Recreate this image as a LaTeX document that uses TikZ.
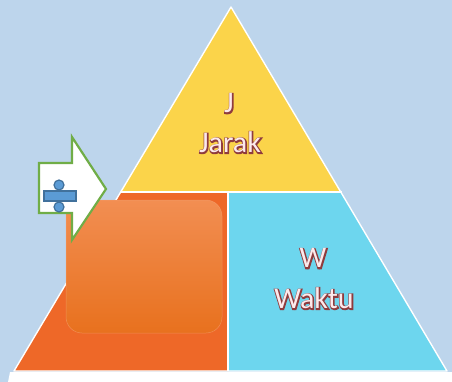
\documentclass[tikz,border=0pt]{standalone}
\usepackage{fontspec}
\setmainfont{Carlito}
\usetikzlibrary{shadings}
\definecolor{bgblue}{HTML}{BDD5EC}
\definecolor{pyryellow}{HTML}{FBD44A}
\definecolor{pyrorange}{HTML}{EE6828}
\definecolor{pyrcyan}{HTML}{6DD6EE}
\definecolor{recttop}{HTML}{F28E52}
\definecolor{rectbot}{HTML}{E8711E}
\definecolor{arrowgreen}{HTML}{70AD47}
\definecolor{symfill}{HTML}{5B9BD5}
\definecolor{symline}{HTML}{41719C}
\definecolor{txtfill}{HTML}{FCEAEC}
\definecolor{txtedge}{HTML}{8E3B3E}
\newcommand{\thickglyphs}[1]{%
  \special{pdf:literal 2 Tr 2.2 w 0.56 0.23 0.24 RG}#1\special{pdf:literal 0 Tr 1 w}}
\newcommand{\fxtext}[3]{%
  \node[lbl,text=txtedge] at ([shift={(0.5,0.6)}]#2) {\thickglyphs{#3}};
  \node[lbl,text=txtfill] (#1) at (#2) {#3};
}
\tikzset{
  lbl/.style={font=\fontsize{30}{32}\selectfont, inner sep=0pt, anchor=center},
  sep/.style={draw=white, line width=2.6pt},
}
\begin{document}
\begin{tikzpicture}[x=1pt,y=-1pt]
\fill[bgblue] (0,0) rectangle (452,382);
\useasboundingbox (0,0) rectangle (452,382);
% white base band
\fill[white] (10,372) -- (452,372) -- (452,382) -- (8,382) -- cycle;
% pyramid parts
\fill[pyryellow] (231,7) -- (341,192) -- (121,192) -- cycle;
\fill[pyrorange] (121,192) -- (228,192) -- (228,371) -- (14,371) -- cycle;
\fill[pyrcyan] (228,192) -- (341,192) -- (447,371) -- (228,371) -- cycle;
\draw[white, line width=1.4pt, line join=round] (231,7) -- (447,371) -- (14,371) -- cycle;
\draw[sep] (120,192) -- (342,192);
\draw[sep] (228,192) -- (228,371);
% rounded rectangle
\shade[top color=recttop, bottom color=rectbot, rounded corners=16pt]
  (66,200) rectangle (222,333);
\draw[recttop!80!white, line width=0.5pt, rounded corners=16pt, opacity=0.6]
  (66,200) rectangle (222,333);
% arrow
\draw[arrowgreen, fill=white, line width=2.2pt, line join=miter]
  (39,163) -- (72,163) -- (72,137) -- (106,189) -- (72,240) -- (72,213) -- (39,213) -- cycle;
% divide symbol
\draw[symline, fill=symfill, line width=1.2pt] (44,191) rectangle (76,201);
\draw[symline, fill=symfill, line width=1.2pt] (59,185) circle (5);
\draw[symline, fill=symfill, line width=1.2pt] (59,207) circle (5);
% texts
\fxtext{tJ}{229,103}{J}
\fxtext{tJarak}{230,142}{Jarak}
\fxtext{tW}{313,258}{W}
\fxtext{tWaktu}{314,298}{Waktu}
\end{tikzpicture}
\end{document}
